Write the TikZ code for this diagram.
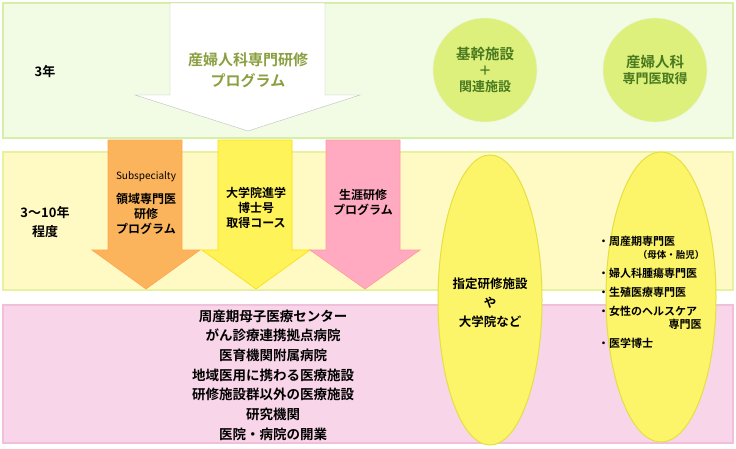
\documentclass[tikz,border=0pt]{standalone}
\usepackage{fontspec}
\setmainfont{Noto Sans CJK JP}[BoldFont={* Bold}]
\definecolor{grfill}{HTML}{F2FBE4}
\definecolor{grline}{HTML}{D4EFA8}
\definecolor{yefill}{HTML}{FFF9C4}
\definecolor{yeline}{HTML}{E6F2A0}
\definecolor{pkfill}{HTML}{F8D5E8}
\definecolor{pkline}{HTML}{F0C0DA}
\definecolor{circ}{HTML}{DDF07C}
\definecolor{circtxt}{HTML}{4A7A20}
\definecolor{progtxt}{HTML}{8AA040}
\definecolor{orfill}{HTML}{FBB45C}
\definecolor{yarfill}{HTML}{FFF35A}
\definecolor{pkarfill}{HTML}{FFAAC0}
\definecolor{elfill}{HTML}{FCF56A}
\definecolor{elline}{HTML}{E4E040}
\begin{document}
\begin{tikzpicture}[x=1pt,y=-1pt,
  band/.style={line width=1.5pt},
  txt/.style={font=\bfseries\fontsize{13}{16}\selectfont, align=center, inner sep=0},
  arr/.style={line width=0.6pt}]
\useasboundingbox (0,0) rectangle (736,448);
\fill[white] (0,0) rectangle (736,448);
\draw[band, draw=grline, fill=grfill] (3,3) rectangle (733,138);
\draw[band, draw=yeline, fill=yefill] (3,152) rectangle (733,290);
\draw[band, draw=pkline, fill=pkfill] (3,305) rectangle (733,443);
% big arrow
\draw[gray!50, fill=white] (170,3) -- (325,3) -- (325,95) -- (360,95) -- (248,131) -- (135,95) -- (170,95) -- cycle;
\node[txt, text=progtxt, font=\bfseries\fontsize{15}{21}\selectfont] (prog) at (248,70) {産婦人科専門研修\\プログラム};
\node[txt] (y3) at (45,72) {3年};
\node[txt, font=\bfseries\fontsize{13}{19}\selectfont] (y10) at (45,222) {3〜10年\\程度};
\node[circle, minimum size=104pt, fill=circ, draw=circ!80!black!20, txt, text=circtxt] (c1) at (485,70) {\fontsize{14.5}{21}\selectfont 基幹施設\\＋\\関連施設};
\node[circle, minimum size=104pt, fill=circ, draw=circ!80!black!20, txt, text=circtxt] (c2) at (655,70) {\fontsize{14.5}{22}\selectfont 産婦人科\\専門医取得};
% downward arrows
\draw[arr, draw=orange!70, fill=orfill] (108,140) -- (182,140) -- (182,250) -- (200,250) -- (146,289) -- (92,250) -- (108,250) -- cycle;
\draw[arr, draw=yellow!80!orange, fill=yarfill] (218,140) -- (292,140) -- (292,250) -- (310,250) -- (256,289) -- (202,250) -- (218,250) -- cycle;
\draw[arr, draw=pink!80!red, fill=pkarfill] (326,140) -- (400,140) -- (400,250) -- (420,250) -- (365,289) -- (310,250) -- (326,250) -- cycle;
\node[txt, font=\fontsize{10}{12}\selectfont] (ss) at (146,177) {Subspecialty};
\node[txt, font=\bfseries\fontsize{12}{15}\selectfont] (a1) at (146,214) {領域専門医\\研修\\プログラム};
\node[txt, font=\bfseries\fontsize{12}{15}\selectfont] (a2) at (256,208) {大学院進学\\博士号\\取得コース};
\node[txt, font=\bfseries\fontsize{12}{15}\selectfont] (a3) at (363,202) {生涯研修\\プログラム};
% ellipses
\draw[elline, line width=1pt, fill=elfill] (490,300) ellipse (52 and 145);
\draw[elline, line width=1pt, fill=elfill] (661,297) ellipse (55 and 145);
\node[txt, font=\bfseries\fontsize{12.5}{19}\selectfont] (e1) at (490,303) {指定研修施設\\や\\大学院など};
\node[txt, font=\bfseries\fontsize{11}{13}\selectfont, align=left, anchor=north west] (e2) at (598,236) {・周産期専門医\\\hspace*{3.6em}{\fontsize{9.5}{13}\selectfont（母体・胎児）}\\[6pt]・婦人科腫瘍専門医\\[6pt]・生殖医療専門医\\[6pt]・女性のヘルスケア\\\hspace*{6.4em}専門医\\[6pt]・医学博士};
\node[txt, font=\bfseries\fontsize{13.5}{19.7}\selectfont] (bot) at (273,375) {周産期母子医療センター\\がん診療連携拠点病院\\医育機関附属病院\\地域医用に携わる医療施設\\研修施設群以外の医療施設\\研究機関\\医院・病院の開業};
\end{tikzpicture}
\end{document}
